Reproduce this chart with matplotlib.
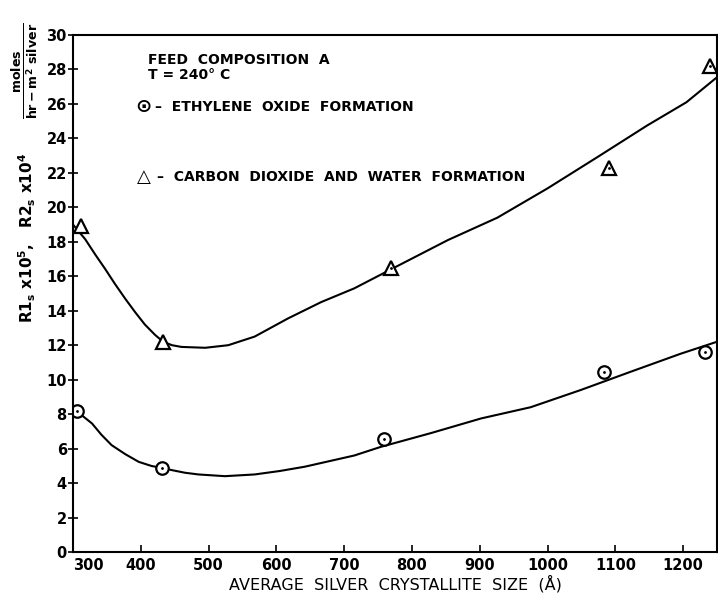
import matplotlib
matplotlib.use('Agg')
import matplotlib.pyplot as plt

eo_size = [306, 431, 759, 1084, 1232]
eo_rate = [8.2, 4.85, 6.55, 10.45, 11.6]

co2_size = [312, 433, 769, 1091, 1240]
co2_rate = [18.9, 12.2, 16.5, 22.3, 28.2]

# Curvas trazadas a mano en el original
eo_curve_x = [300, 314, 328, 342, 357, 377, 397, 416, 431, 446, 465, 485, 524, 568, 605, 642, 715,
              754, 828, 902, 975, 1049, 1122, 1196, 1250]
eo_curve_y = [8.45, 7.9, 7.46, 6.8, 6.2, 5.68, 5.23, 4.99, 4.88, 4.75, 4.6, 4.5, 4.4, 4.5, 4.7, 4.95, 5.6,
              6.1, 6.9, 7.75, 8.4, 9.4, 10.45, 11.5, 12.2]

co2_curve_x = [300, 318, 333, 347, 362, 377, 392, 406, 421, 433, 446, 460, 495, 529, 568, 617, 666,
               715, 769, 853, 926, 1000, 1073, 1147, 1205, 1250]
co2_curve_y = [19.0, 18.15, 17.25, 16.45, 15.55, 14.7, 13.9, 13.2, 12.6, 12.2, 12.0, 11.9, 11.85, 12.0,
               12.5, 13.55, 14.5, 15.3, 16.4, 18.1, 19.4, 21.1, 22.9, 24.75, 26.1, 27.55]

x_ticks = [300, 400, 500, 600, 700, 800, 900, 1000, 1100, 1200]
y_ticks = list(range(0, 31, 2))

plt.rcParams['font.family'] = 'DejaVu Sans'
plt.rcParams['font.weight'] = 'bold'

fig = plt.figure(figsize=(7.18, 5.93), dpi=100)
ax = fig.add_axes([73 / 718, 41 / 593, 644 / 718, 517 / 593])

ax.plot(co2_curve_x, co2_curve_y, color='black', linewidth=1.5)
ax.plot(eo_curve_x, eo_curve_y, color='black', linewidth=1.5)

ax.plot(eo_size, eo_rate, linestyle='none', marker='o', markersize=9,
        markerfacecolor='white', markeredgecolor='black', markeredgewidth=1.6)
ax.plot(eo_size, eo_rate, linestyle='none', marker='.', markersize=2, color='black')
ax.plot(co2_size, co2_rate, linestyle='none', marker='^', markersize=10,
        markerfacecolor='white', markeredgecolor='black', markeredgewidth=1.6)
ax.plot(co2_size[2:], co2_rate[2:], linestyle='none', marker='.', markersize=2, color='black')

ax.set_xlim(300, 1250)
ax.set_ylim(0, 30)
ax.set_xticks(x_ticks)
ax.set_yticks(y_ticks)
ax.tick_params(axis='x', direction='in', length=5, width=1.2, labelsize=10.5, pad=4)
ax.tick_params(axis='y', direction='inout', length=7, width=1.2, labelsize=10.5, pad=1)
# el 300 va un poco a la derecha del origen, como en el original
ax.get_xticklabels()[0].set_horizontalalignment('left')
for s in ax.spines.values():
    s.set_linewidth(1.5)

ax.set_xlabel('AVERAGE  SILVER  CRYSTALLITE  SIZE  (Å)', fontsize=11.5, labelpad=2)

# Etiqueta del eje y (dos partes)
fig.text(27 / 718, 1 - 238 / 593, r'R1$_\mathbf{s}$ x10$^\mathbf{5}$,   R2$_\mathbf{s}$ x10$^\mathbf{4}$',
         rotation=90, ha='center', va='center', fontsize=11)
fig.text(25 / 718, 1 - 71 / 593, r'$\frac{\mathbf{moles}}{\mathbf{hr-m^2\ silver}}$',
         rotation=90, ha='center', va='center', fontsize=13)

# Leyenda escrita dentro del grafico
fig.text(148 / 718, 1 - 60 / 593, 'FEED  COMPOSITION  A', fontsize=10, va='center')
fig.text(148 / 718, 1 - 75 / 593, 'T = 240° C', fontsize=10, va='center')
fig.text(135 / 718, 1 - 107 / 593, '⊙', fontsize=14, va='center')
fig.text(155 / 718, 1 - 107 / 593, '–  ETHYLENE  OXIDE  FORMATION', fontsize=10, va='center')
fig.text(137 / 718, 1 - 177 / 593, '△', fontsize=13, va='center')
fig.text(157 / 718, 1 - 177 / 593, '–  CARBON  DIOXIDE  AND  WATER  FORMATION', fontsize=10, va='center')

fig.savefig('out.png', dpi=100)
